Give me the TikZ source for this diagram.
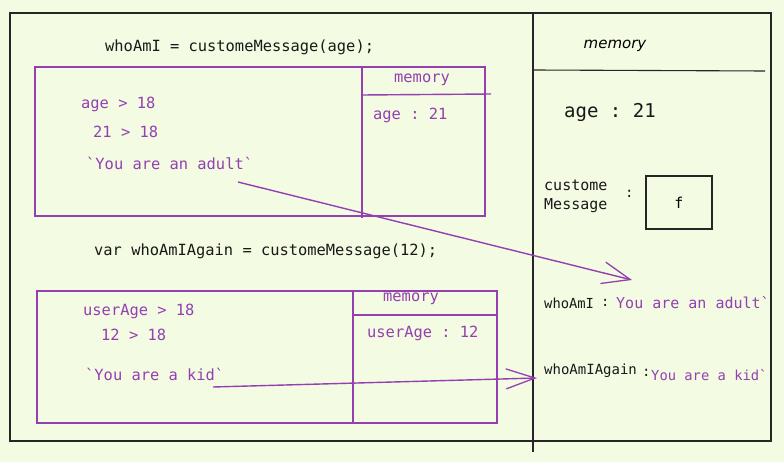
\documentclass[tikz,border=0pt]{standalone}
\usepackage{fontspec}
\setmonofont{DejaVu Sans Mono}
\newfontfamily\handfont{DejaVu Sans}
\usetikzlibrary{arrows.meta}
\definecolor{bgc}{HTML}{F3FBE3}
\definecolor{vio}{HTML}{9440B0}
\tikzset{
  blk/.style={draw=black!85, line width=1.1pt},
  pbox/.style={draw=vio, line width=1.4pt},
  code/.style={anchor=west, inner sep=0pt, font=\ttfamily\fontsize{15.4}{18}\selectfont, text=black!90},
  pcode/.style={anchor=west, inner sep=0pt, font=\ttfamily\fontsize{15.4}{18}\selectfont, text=vio},
  memlabel/.style={inner sep=0pt, font=\ttfamily\fontsize{15.4}{18}\selectfont, text=vio},
  hand/.style={inner sep=0pt, font=\handfont\itshape\fontsize{15}{18}\selectfont, text=black},
  parrow/.style={draw=vio, line width=1.4pt, -{Straight Barb[length=28pt, width=22pt, line width=1.3pt]}},
}
\begin{document}
\begin{tikzpicture}[x=1pt, y=-1pt]
\fill[bgc] (0,0) rectangle (784,462);
\useasboundingbox (0,0) rectangle (784,462);

% outer frame and memory column
\draw[blk] (10,13) rectangle (771,441);
\draw[blk] (533,13) -- (533,452);
\draw[blk] (533,70) -- (765,71);
\node[hand] (memT) at (615,46) {memory};

% first call
\node[code] (call1) at (105,47) {whoAmI = customeMessage(age);};
\draw[pbox] (35,67) rectangle (485,216);
\draw[pbox] (362,67) -- (362,218);
\draw[pbox] (362,95) -- (491,94);
\node[memlabel] (mem1) at (422,80) {memory};
\node[pcode] (age1) at (373,115) {age : 21};
\node[pcode] (cond1) at (81,104) {age > 18};
\node[pcode] (cond1b) at (93,132) {21 > 18};
\node[pcode] (res1) at (86,163) {`You are an adult`};

% second call
\node[code] (call2) at (94,251) {var whoAmIAgain = customeMessage(12);};
\draw[pbox] (37,291) rectangle (497,423);
\draw[pbox] (353,291) -- (353,423);
\draw[pbox] (353,315) -- (497,315);
\node[memlabel] (mem2) at (411,299) {memory};
\node[pcode] (age2) at (367,333) {userAge : 12};
\node[pcode] (cond2) at (83,311) {userAge > 18};
\node[pcode] (cond2b) at (101,335) {12 > 18};
\node[pcode] (res2) at (85,374) {`You are a kid`};

% global memory
\node[code, font=\ttfamily\fontsize{19}{22}\selectfont] (gage) at (564,112) {age : 21};
\node[code, font=\ttfamily\fontsize{15}{19}\selectfont, align=left] (cm) at (544,196) {custome\\Message};
\node[code, font=\ttfamily\fontsize{14}{17}\selectfont] (cmc) at (625,194) {:};
\node[draw=black!85, line width=1.1pt, minimum width=66pt, minimum height=53pt, inner sep=0pt, font=\ttfamily\fontsize{15}{18}\selectfont] (fbox) at (679,202.5) {f};

\node[code, font=\ttfamily\fontsize{13.8}{17}\selectfont] (w1) at (544,303) {whoAmI};
\node[code, font=\ttfamily\fontsize{13.8}{17}\selectfont] (w1c) at (601,303) {:};
\node[pcode, font=\ttfamily\fontsize{15}{18}\selectfont] (w1v) at (616,303) {You are an adult`};

\node[code, font=\ttfamily\fontsize{14}{17}\selectfont] (w2) at (544,371) {whoAmIAgain};
\node[code, font=\ttfamily\fontsize{14}{17}\selectfont] (w2c) at (642,373) {:};
\node[pcode, font=\ttfamily\fontsize{13.8}{17}\selectfont] (w2v) at (651,375) {You are a kid`};

% arrows
\coordinate (a1s) at (238,182);
\coordinate (a1e) at (632,280);
\coordinate (a2s) at (213,387);
\coordinate (a2e) at (537,378);
\draw[parrow] (a1s) -- (a1e);
\draw[parrow, -{Straight Barb[length=29pt, width=20pt, line width=1.3pt]}] (a2s) -- (a2e);
\end{tikzpicture}
\end{document}
